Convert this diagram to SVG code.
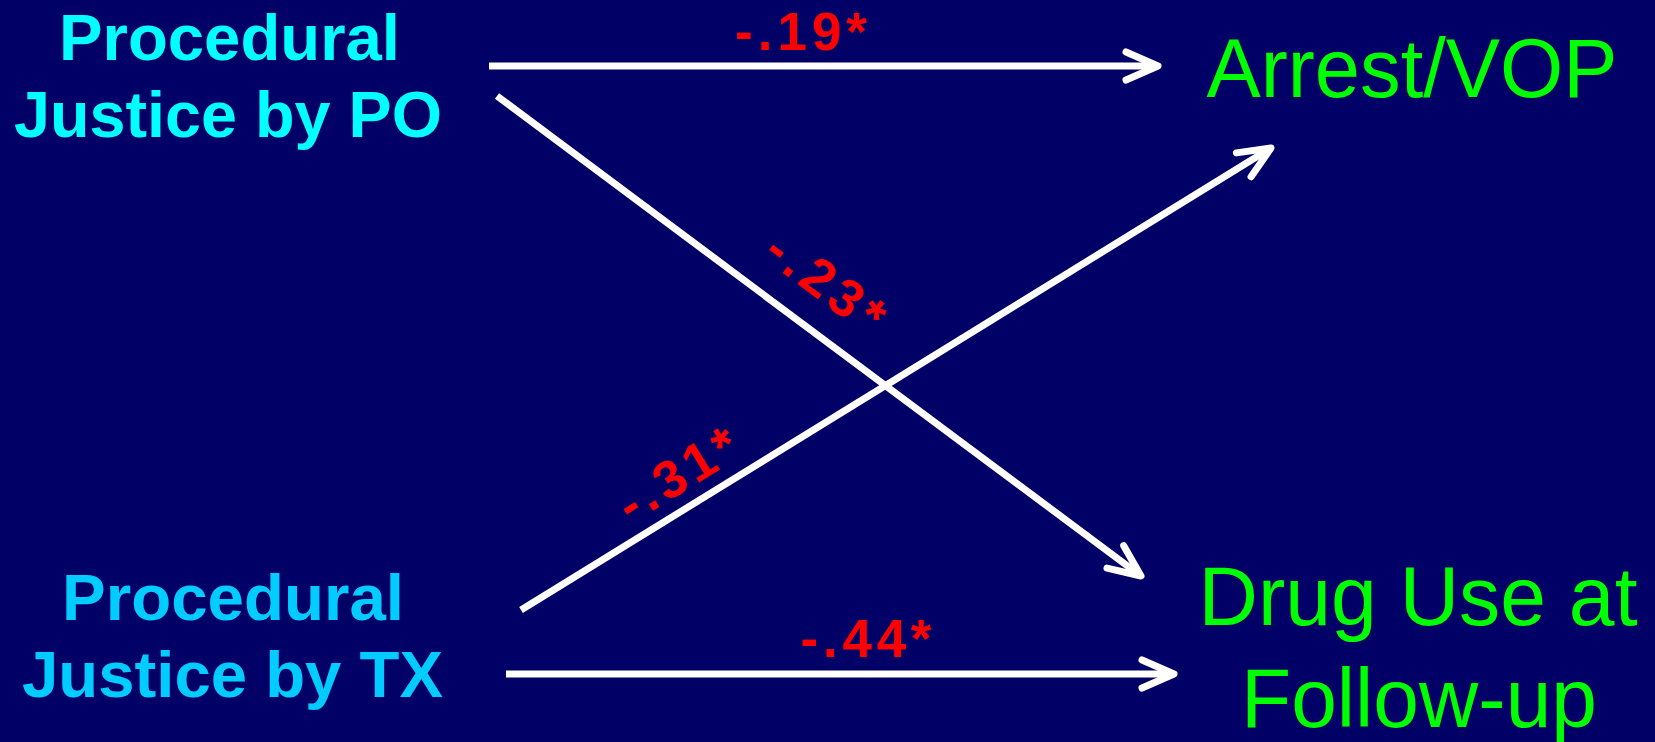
<svg xmlns="http://www.w3.org/2000/svg" width="1655" height="742" viewBox="0 0 1655 742">
<style>
.src{font-family:"Liberation Sans",Arial,sans-serif;font-weight:bold;font-size:64px;}
.dst{font-family:"Liberation Sans",Arial,sans-serif;font-size:84px;fill:#00FF00;}
.lbl{font-family:"Liberation Sans",Arial,sans-serif;font-weight:bold;font-size:53px;fill:#FF0000;}
.conn{stroke:#FFFFFF;stroke-width:7;fill:none;marker-end:url(#arr);}
</style>
<defs>
<marker id="arr" markerUnits="userSpaceOnUse" viewBox="-40 -20 48 40" refX="0" refY="0" markerWidth="48" markerHeight="40" orient="auto">
<path d="M-32,-14 L0,0 L-32,14" fill="none" stroke="#FFFFFF" stroke-width="7" stroke-linecap="round" stroke-linejoin="round"/>
</marker>
</defs>
<rect width="1655" height="742" fill="#000066"/>
<g id="connectors">
<path class="conn" d="M489,66 L1158,66"/>
<path class="conn" d="M506,674 L1174,674"/>
<path class="conn" d="M497,96 L1141,576"/>
<path class="conn" d="M521,610 L1271,148"/>
</g>
<g id="labels">
<text class="lbl" x="801" y="50" text-anchor="middle" textLength="132" lengthAdjust="spacing">-.19*</text>
<text class="lbl" x="866" y="657" text-anchor="middle" textLength="131" lengthAdjust="spacing">-.44*</text>
<text class="lbl" text-anchor="middle" textLength="134" lengthAdjust="spacing" transform="translate(815,297) rotate(36.7)" font-size="55">-.23*</text>
<text class="lbl" text-anchor="middle" textLength="132" lengthAdjust="spacing" transform="translate(687,490) rotate(-31.6)" font-size="55">-.31*</text>
</g>
<g id="node-po">
<text class="src" fill="#00FFFF" x="229.5" y="60" text-anchor="middle" textLength="341" lengthAdjust="spacingAndGlyphs">Procedural</text>
<text class="src" fill="#00FFFF" x="228" y="137" text-anchor="middle" textLength="428" lengthAdjust="spacingAndGlyphs">Justice by PO</text>
</g>
<g id="node-tx">
<text class="src" fill="#00CCFF" x="233" y="620" text-anchor="middle" textLength="342" lengthAdjust="spacingAndGlyphs">Procedural</text>
<text class="src" fill="#00CCFF" x="232.5" y="697" text-anchor="middle" textLength="421" lengthAdjust="spacingAndGlyphs">Justice by TX</text>
</g>
<g id="node-arrest">
<text class="dst" x="1412" y="97" text-anchor="middle" textLength="411" lengthAdjust="spacingAndGlyphs">Arrest/VOP</text>
</g>
<g id="node-drug">
<text class="dst" x="1418" y="625" text-anchor="middle" textLength="439" lengthAdjust="spacingAndGlyphs">Drug Use at</text>
<text class="dst" x="1419" y="727" text-anchor="middle" textLength="356" lengthAdjust="spacingAndGlyphs">Follow-up</text>
</g>
</svg>
